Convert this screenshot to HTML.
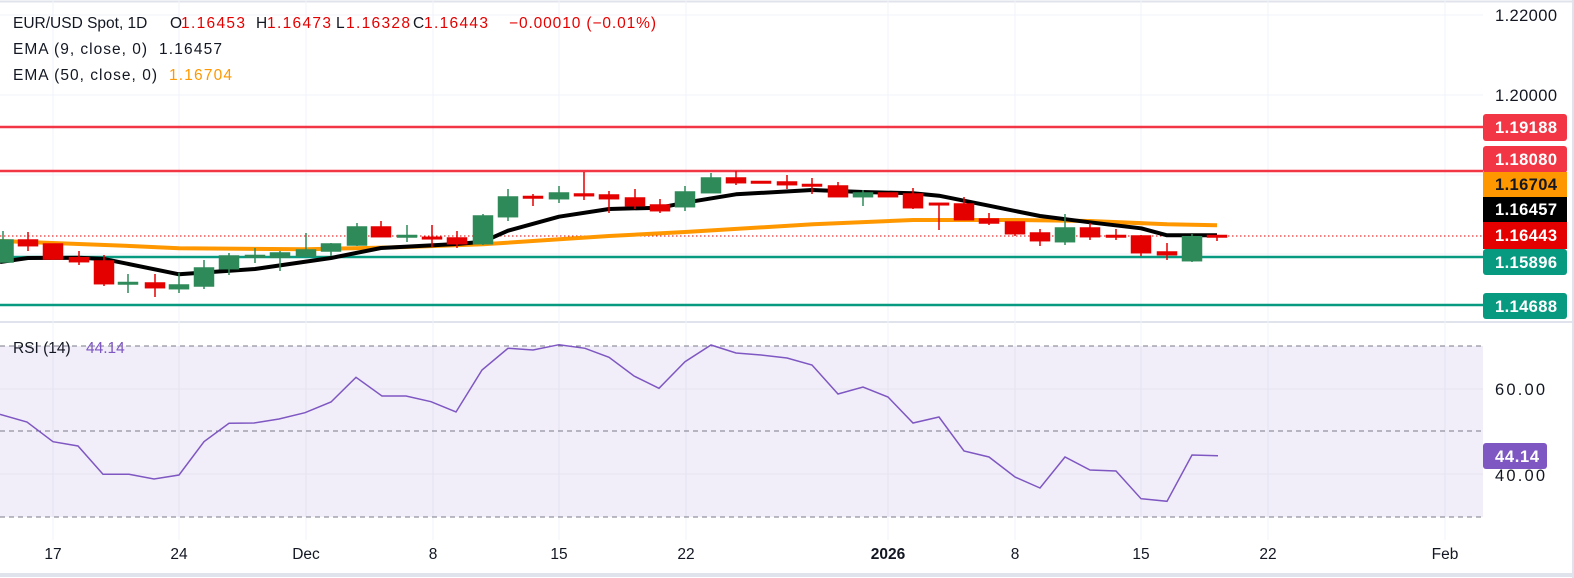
<!DOCTYPE html>
<html><head><meta charset="utf-8"><style>
html,body{margin:0;padding:0;background:#fff;}
svg{display:block;font-family:"Liberation Sans","DejaVu Sans",sans-serif;}
</style></head><body>
<svg width="1574" height="578" viewBox="0 0 1574 578" xmlns="http://www.w3.org/2000/svg">
<rect width="1574" height="578" fill="#fff"/>
<line x1="0" y1="1.5" x2="1574" y2="1.5" stroke="#e0e3eb" stroke-width="2"/>
<line x1="0" y1="322" x2="1574" y2="322" stroke="#e0e3eb" stroke-width="2"/>
<line x1="0" y1="575" x2="1574" y2="575" stroke="#e0e3eb" stroke-width="4"/>
<line x1="1573" y1="0" x2="1573" y2="578" stroke="#e0e3eb" stroke-width="2"/>
<g stroke="#f0f3fa" stroke-width="1">
<line x1="53" y1="0" x2="53" y2="540"/><line x1="179" y1="0" x2="179" y2="540"/><line x1="306" y1="0" x2="306" y2="540"/><line x1="433" y1="0" x2="433" y2="540"/><line x1="559" y1="0" x2="559" y2="540"/><line x1="686" y1="0" x2="686" y2="540"/><line x1="888" y1="0" x2="888" y2="540"/><line x1="1015" y1="0" x2="1015" y2="540"/><line x1="1141" y1="0" x2="1141" y2="540"/><line x1="1268" y1="0" x2="1268" y2="540"/><line x1="1445" y1="0" x2="1445" y2="540"/>
</g>
<g stroke="#f0f3fa" stroke-width="1">
<line x1="0" y1="15" x2="1483" y2="15"/><line x1="0" y1="95" x2="1483" y2="95"/><line x1="0" y1="175" x2="1483" y2="175"/><line x1="0" y1="254" x2="1483" y2="254"/>
</g>
<line x1="0" y1="127" x2="1483" y2="127" stroke="#f23645" stroke-width="2.5"/>
<line x1="0" y1="171" x2="1483" y2="171" stroke="#f23645" stroke-width="2.5"/>
<line x1="0" y1="257" x2="1483" y2="257" stroke="#089981" stroke-width="2.5"/>
<line x1="0" y1="305" x2="1483" y2="305" stroke="#089981" stroke-width="2.5"/>
<line x1="0" y1="236" x2="1483" y2="236" stroke="#e50000" stroke-width="1" stroke-dasharray="1.5,2.5"/>
<polyline fill="none" stroke="#ff9800" stroke-width="4" stroke-linejoin="round" points="0,241 130,246 179,248.3 306,249.3 407,247 483,244.3 609,236 685,232 813,224.3 913,220 1015,220 1090,221 1167,224.3 1217,225.3"/>
<polyline fill="none" stroke="#000" stroke-width="4" stroke-linejoin="round" points="0,262 28,258 79,257.7 104,259 179,274.3 255,269 331,258 381,248 457,244 483,241.7 508,230.7 559,216.7 609,209 660,207.7 685,202.7 736,194.3 812,190 863,192 913,193.3 939,195.7 989,205.7 1040,216 1090,222.3 1141,228.3 1167,235.3 1217,235.3"/>
<g stroke-width="1.5">
<g stroke="#2e8a59" fill="#2e8a59">
<line x1="3" y1="231" x2="3" y2="262"/><rect x="-6" y="240" width="19" height="22"/>
<line x1="128" y1="274" x2="128" y2="293"/><rect x="118.5" y="282.5" width="19" height="1.5"/>
<line x1="179" y1="273" x2="179" y2="293"/><rect x="169.5" y="285" width="19" height="3.7"/>
<line x1="204" y1="260" x2="204" y2="289"/><rect x="194.5" y="268" width="19" height="18"/>
<line x1="229" y1="253" x2="229" y2="275"/><rect x="219.5" y="256" width="19" height="12.7"/>
<line x1="255" y1="248" x2="255" y2="263"/><rect x="245.5" y="255.5" width="19" height="1.5"/>
<line x1="280" y1="251" x2="280" y2="271"/><rect x="270.5" y="253" width="19" height="4.3"/>
<line x1="306" y1="233" x2="306" y2="257"/><rect x="296.5" y="250" width="19" height="6"/>
<line x1="331" y1="243" x2="331" y2="256"/><rect x="321.5" y="244" width="19" height="7"/>
<line x1="357" y1="223" x2="357" y2="246"/><rect x="347.5" y="227" width="19" height="18"/>
<line x1="407" y1="225" x2="407" y2="242"/><rect x="397.5" y="235.5" width="19" height="1.5"/>
<line x1="483" y1="214" x2="483" y2="245"/><rect x="473.5" y="216" width="19" height="27.7"/>
<line x1="508" y1="189" x2="508" y2="221"/><rect x="498.5" y="197" width="19" height="19.7"/>
<line x1="559" y1="186" x2="559" y2="203"/><rect x="549.5" y="193" width="19" height="5.7"/>
<line x1="685" y1="186" x2="685" y2="211"/><rect x="675.5" y="192" width="19" height="14.7"/>
<line x1="711" y1="173" x2="711" y2="193"/><rect x="701.5" y="178" width="19" height="14.7"/>
<line x1="863" y1="190" x2="863" y2="206"/><rect x="853.5" y="193" width="19" height="3.7"/>
<line x1="1065" y1="214" x2="1065" y2="245"/><rect x="1055.5" y="228" width="19" height="13.7"/>
<line x1="1192" y1="234" x2="1192" y2="262"/><rect x="1182.5" y="236.7" width="19" height="24"/>
</g>
<g stroke="#e50000" fill="#e50000">
<line x1="28" y1="232" x2="28" y2="251"/><rect x="18.5" y="240" width="19" height="5.7"/>
<line x1="53" y1="244" x2="53" y2="260"/><rect x="43.5" y="244" width="19" height="15"/>
<line x1="79" y1="251" x2="79" y2="265"/><rect x="69.5" y="257.7" width="19" height="4"/>
<line x1="104" y1="255" x2="104" y2="286"/><rect x="94.5" y="261" width="19" height="22.7"/>
<line x1="155" y1="274" x2="155" y2="297"/><rect x="145.5" y="283" width="19" height="4.7"/>
<line x1="381" y1="221" x2="381" y2="237"/><rect x="371.5" y="227" width="19" height="9.7"/>
<line x1="432" y1="225" x2="432" y2="247"/><rect x="422.5" y="237.3" width="19" height="1.5"/>
<line x1="457" y1="231" x2="457" y2="248"/><rect x="447.5" y="238" width="19" height="5.7"/>
<line x1="533" y1="194" x2="533" y2="206"/><rect x="523.5" y="196.5" width="19" height="1.5"/>
<line x1="584" y1="172" x2="584" y2="200"/><rect x="574.5" y="194" width="19" height="1.7"/>
<line x1="609" y1="191" x2="609" y2="213"/><rect x="599.5" y="195" width="19" height="3.7"/>
<line x1="635" y1="189" x2="635" y2="209"/><rect x="625.5" y="198" width="19" height="7.7"/>
<line x1="660" y1="199" x2="660" y2="213"/><rect x="650.5" y="205" width="19" height="5.7"/>
<line x1="736" y1="171" x2="736" y2="185"/><rect x="726.5" y="178" width="19" height="4.7"/>
<rect x="751.5" y="181.5" width="19" height="1.5"/>
<line x1="787" y1="175" x2="787" y2="189"/><rect x="777.5" y="182" width="19" height="2.7"/>
<line x1="812" y1="178" x2="812" y2="194"/><rect x="802.5" y="184.5" width="19" height="1.5"/>
<line x1="838" y1="182" x2="838" y2="197"/><rect x="828.5" y="186" width="19" height="10.7"/>
<rect x="878.5" y="193" width="19" height="3.7"/>
<line x1="913" y1="188" x2="913" y2="209"/><rect x="903.5" y="194" width="19" height="13.7"/>
<line x1="939" y1="204" x2="939" y2="230"/><rect x="929.5" y="203.3" width="19" height="1.5"/>
<line x1="964" y1="197" x2="964" y2="220"/><rect x="954.5" y="204" width="19" height="15.7"/>
<line x1="989" y1="213" x2="989" y2="225"/><rect x="979.5" y="219" width="19" height="4"/>
<line x1="1015" y1="222" x2="1015" y2="236"/><rect x="1005.5" y="222" width="19" height="11.7"/>
<line x1="1040" y1="229" x2="1040" y2="246"/><rect x="1030.5" y="233" width="19" height="7.7"/>
<line x1="1090" y1="223" x2="1090" y2="240"/><rect x="1080.5" y="228" width="19" height="8.7"/>
<line x1="1116" y1="229" x2="1116" y2="240"/><rect x="1106.5" y="235.5" width="19" height="1.5"/>
<line x1="1141" y1="235" x2="1141" y2="256"/><rect x="1131.5" y="236" width="19" height="16.7"/>
<line x1="1167" y1="243" x2="1167" y2="260"/><rect x="1157.5" y="252" width="19" height="2.7"/>
<line x1="1217" y1="235" x2="1217" y2="241"/><rect x="1207.5" y="235.5" width="19" height="1.5"/>
</g>
</g>
<g font-size="15.5" fill="#131722">
<text x="13" y="28">EUR/USD Spot, 1D</text>
<text x="170" y="28">O</text><text x="181" y="28" fill="#e50000" textLength="64">1.16453</text>
<text x="256" y="28">H</text><text x="267" y="28" fill="#e50000" textLength="64">1.16473</text>
<text x="336" y="28">L</text><text x="346" y="28" fill="#e50000" textLength="64">1.16328</text>
<text x="413" y="28">C</text><text x="424" y="28" fill="#e50000" textLength="64">1.16443</text>
<text x="509" y="28" fill="#e50000" textLength="147">−0.00010 (−0.01%)</text>
<text x="13" y="54" textLength="134">EMA (9, close, 0)</text><text x="159" y="54" textLength="63">1.16457</text>
<text x="13" y="80" textLength="144">EMA (50, close, 0)</text><text x="169" y="80" fill="#ff9800" textLength="63">1.16704</text>
</g>
<g font-size="16.5" fill="#131722">
<text x="1495" y="21" textLength="62">1.22000</text>
<text x="1495" y="101" textLength="62">1.20000</text>
</g>
<g font-size="16.5" font-weight="bold" fill="#fff">
<rect x="1483" y="114" width="84" height="27" rx="3" fill="#f23645"/><text x="1495" y="133" textLength="62">1.19188</text>
<rect x="1483" y="146" width="84" height="27" rx="3" fill="#f23645"/><text x="1495" y="165" textLength="62">1.18080</text>
<rect x="1483" y="172" width="84" height="25" fill="#ff9800"/><text x="1495" y="190" fill="#131722" textLength="62">1.16704</text>
<rect x="1483" y="197" width="84" height="25" fill="#000"/><text x="1495" y="215" textLength="62">1.16457</text>
<rect x="1483" y="222" width="84" height="27" fill="#e50000"/><text x="1495" y="241" textLength="62">1.16443</text>
<rect x="1483" y="249" width="84" height="26" rx="3" fill="#089981"/><text x="1495" y="268" textLength="62">1.15896</text>
<rect x="1483" y="293" width="84" height="26" rx="3" fill="#089981"/><text x="1495" y="312" textLength="62">1.14688</text>
</g>
<rect x="0" y="346" width="1483" height="171" fill="#7e57c2" fill-opacity="0.1"/>
<g stroke="#e6e3ee" stroke-width="1"><line x1="0" y1="389" x2="1483" y2="389"/><line x1="0" y1="474" x2="1483" y2="474"/></g>
<g stroke="#787b86" stroke-width="1" stroke-dasharray="5,4">
<line x1="0" y1="346" x2="1483" y2="346"/><line x1="0" y1="431" x2="1483" y2="431"/><line x1="0" y1="517" x2="1483" y2="517"/>
</g>
<polyline fill="none" stroke="#7e57c2" stroke-width="1.5" points="0,414.3 27,422 53,441.7 78,446 103,474.3 129,474.3 154,479 179,475 204,441.7 229,423.3 254,423 279,419 305,412.7 331,402 356,377.3 382,396 406,396 431,401.7 456,412 482,370 508,348.3 533,350 559,344.7 585,348.3 609,357.3 634,376 659,388.3 685,361.7 711,345 736,353 761,355 787,358 812,365 838,394 863,387 888,397 913,423 939,417 964,451 989,457 1015,477 1040,488 1065,457 1090,470 1116,471 1141,498.7 1167,501.3 1192,455 1218,455.7"/>
<text x="13" y="353" font-size="15.5" fill="#131722">RSI (14)</text><text x="86" y="353" font-size="15.5" fill="#7e57c2">44.14</text>
<g font-size="16.5" fill="#131722">
<text x="1495" y="395" textLength="50">60.00</text>
<text x="1495" y="481" textLength="50">40.00</text>
</g>
<rect x="1483" y="443" width="64" height="26" rx="3" fill="#7e57c2"/>
<text x="1495" y="462" font-size="16.5" font-weight="bold" fill="#fff" textLength="44">44.14</text>
<g font-size="15.5" fill="#131722" text-anchor="middle">
<text x="53" y="559">17</text><text x="179" y="559">24</text><text x="306" y="559">Dec</text><text x="433" y="559">8</text><text x="559" y="559">15</text><text x="686" y="559">22</text><text x="888" y="559" font-weight="bold">2026</text><text x="1015" y="559">8</text><text x="1141" y="559">15</text><text x="1268" y="559">22</text><text x="1445" y="559">Feb</text>
</g>
</svg>
</body></html>
